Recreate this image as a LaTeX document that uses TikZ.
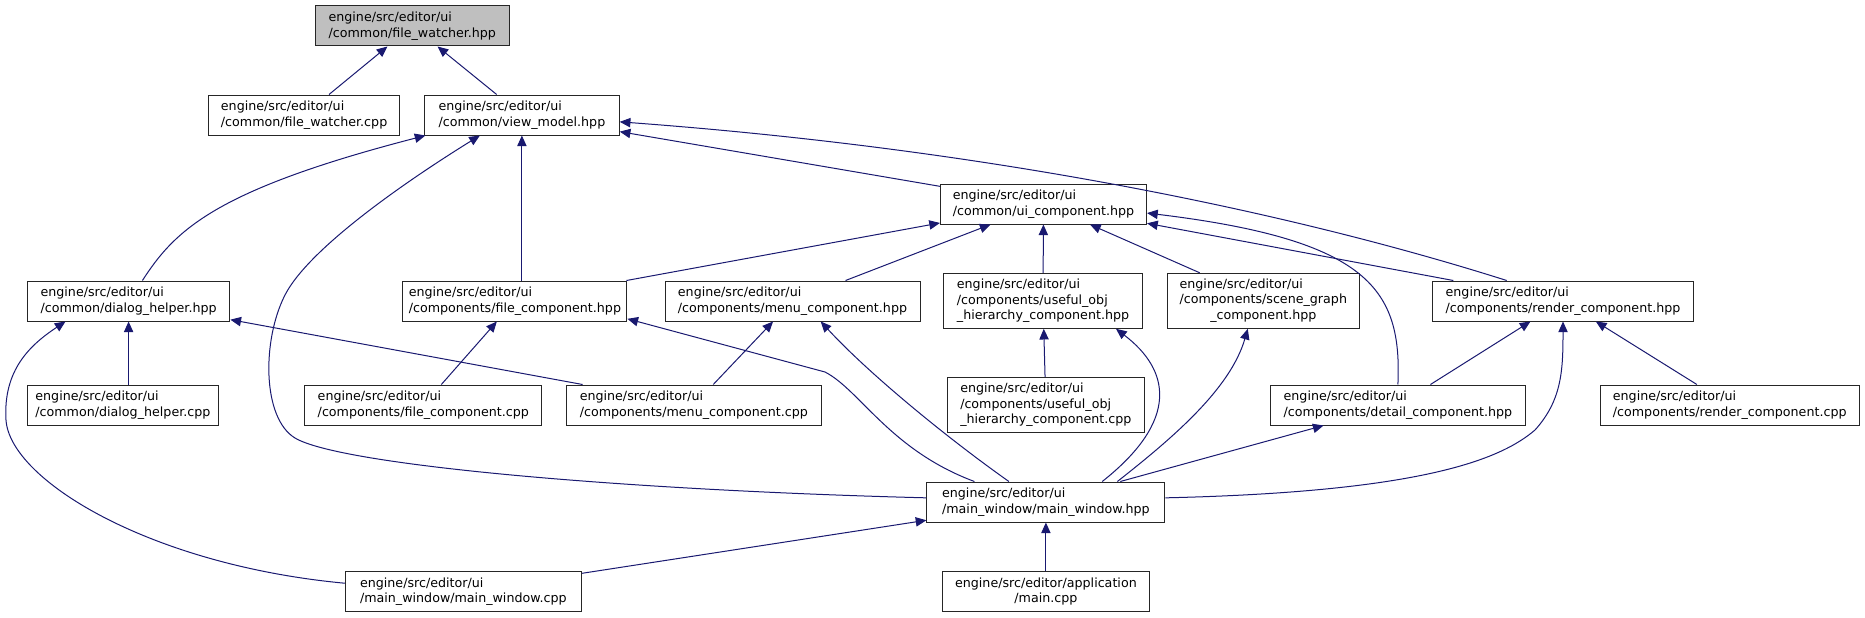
\documentclass[tikz,border=0pt]{standalone}
\usepackage{fontspec}
\setmainfont{DejaVu Sans}
\usetikzlibrary{arrows.meta}

\begin{document}
\begin{tikzpicture}[x=0.75pt,y=-0.75pt,font=\fontsize{9.5}{11.7}\selectfont,
	file/.style={draw=black!85,line width=0.75pt,fill=white,inner sep=0pt,align=left},
	sz/.style 2 args={minimum width=#1*0.75pt,minimum height=#2*0.75pt},
	inc/.style={draw=incEdge,line width=0.75pt,-{Triangle[length=8pt,width=7pt]}}]
\definecolor{incEdge}{HTML}{191970}
\definecolor{incFocus}{HTML}{BFBFBF}

\useasboundingbox (0,0) rectangle (1865,617);

\node[file,fill=incFocus,sz={193.5}{40}] (fwHpp) at (412.3,26) {engine/src/editor/ui\\/common/file\_watcher.hpp};
\node[file,sz={191}{40}] (fwCpp) at (304.1,115) {engine/src/editor/ui\\/common/file\_watcher.cpp};
\node[file,sz={194.7}{40}] (vmHpp) at (521.9,115) {engine/src/editor/ui\\/common/view\_model.hpp};
\node[file,sz={206.1}{40}] (uiHpp) at (1043.5,204) {engine/src/editor/ui\\/common/ui\_component.hpp};

\node[file,sz={202.5}{40}] (dlgHpp) at (128.6,301) {engine/src/editor/ui\\/common/dialog\_helper.hpp};
\node[file,sz={224}{40}] (fileHpp) at (514.9,301) {engine/src/editor/ui\\/components/file\_component.hpp};
\node[file,sz={255}{40}] (menuHpp) at (792.5,301) {engine/src/editor/ui\\/components/menu\_component.hpp};
\node[file,sz={198.7}{55}] (objHpp) at (1043,300.8) {engine/src/editor/ui\\/components/useful\_obj\\\_hierarchy\_component.hpp};
\node[file,sz={192.6}{55}] (sceneHpp) at (1263.3,300.8)
	{\begin{tabular}{@{}l@{}}engine/src/editor/ui\\/components/scene\_graph\\\multicolumn{1}{@{}c@{}}{\_component.hpp}\end{tabular}};
\node[file,sz={260.3}{40}] (renderHpp) at (1563,301) {engine/src/editor/ui\\/components/render\_component.hpp};

\node[file,sz={191}{40}] (dlgCpp) at (122.9,405) {engine/src/editor/ui\\/common/dialog\_helper.cpp};
\node[file,sz={236.7}{40}] (fileCpp) at (423.3,405) {engine/src/editor/ui\\/components/file\_component.cpp};
\node[file,sz={254.5}{40}] (menuCpp) at (693.8,405) {engine/src/editor/ui\\/components/menu\_component.cpp};
\node[file,sz={197.5}{55}] (objCpp) at (1045.8,405) {engine/src/editor/ui\\/components/useful\_obj\\\_hierarchy\_component.cpp};
\node[file,sz={254.3}{40}] (detailHpp) at (1397.9,405) {engine/src/editor/ui\\/components/detail\_component.hpp};
\node[file,sz={258.7}{40}] (renderCpp) at (1729.7,405) {engine/src/editor/ui\\/components/render\_component.cpp};

\node[file,sz={238}{40}] (mwHpp) at (1045.9,502) {engine/src/editor/ui\\/main\_window/main\_window.hpp};
\node[file,sz={236}{40}] (mwCpp) at (463.3,591.5) {engine/src/editor/ui\\/main\_window/main\_window.cpp};
\node[file,align=center,sz={207}{40}] (appCpp) at (1045.9,591.5) {engine/src/editor/application\\/main.cpp};

\draw[inc] (fwCpp) -- (fwHpp);
\draw[inc] (vmHpp) -- (fwHpp);
\draw[inc] (dlgHpp.56) .. controls (175,230) and (215,190) .. (vmHpp.192);
\draw[inc] (mwHpp.178) .. controls (620,490) and (340,465) .. (295,438)
	.. controls (262,418) and (262,340) .. (285,295)
	.. controls (308,250) and (400,185) .. (vmHpp.206);
\draw[inc] (fileHpp.north -| vmHpp.south) -- (vmHpp.south);
\draw[inc] (uiHpp) -- (vmHpp);
\draw[inc] (renderHpp.160) .. controls (1300,215) and (1000,150) .. (vmHpp.-4);

\draw[inc] (fileHpp) -- (uiHpp);
\draw[inc] (menuHpp) -- (uiHpp);
\draw[inc] (objHpp) -- (uiHpp);
\draw[inc] (sceneHpp) -- (uiHpp);
\draw[inc] (detailHpp.north) .. controls (1402,290) and (1370,240) .. (uiHpp.-5);
\draw[inc] (renderHpp) -- (uiHpp);

\draw[inc] (dlgCpp.north -| dlgHpp.south) -- (dlgHpp.south);
\draw[inc] (menuCpp) -- (dlgHpp);
\draw[inc] (mwCpp.176) .. controls (150,565) and (10,480) .. (6,420)
	.. controls (3,370) and (30,345) .. (dlgHpp.198);
\draw[inc] (fileCpp) -- (fileHpp);
\draw[inc] (mwHpp.164) .. controls (890,450) and (860,390) .. (825,372) -- (fileHpp.-9);
\draw[inc] (menuCpp) -- (menuHpp);
\draw[inc] (mwHpp.151) .. controls (950,440) and (870,375) .. (menuHpp.-36);
\draw[inc] (objCpp) -- (objHpp);
\draw[inc] (mwHpp.20) .. controls (1180,420) and (1170,370) .. (objHpp.-21);
\draw[inc] (mwHpp.16) .. controls (1170,440) and (1230,390) .. (sceneHpp.241);
\draw[inc] (mwHpp) -- (detailHpp);
\draw[inc] (detailHpp) -- (renderHpp);
\draw[inc] (renderCpp) -- (renderHpp);
\draw[inc] (mwHpp.2) .. controls (1420,492) and (1500,460) .. (1535,430)
	.. controls (1562,400) and (1563,370) .. (renderHpp.south);

\draw[inc] (mwCpp) -- (mwHpp);
\draw[inc] (appCpp) -- (mwHpp);
\end{tikzpicture}
\end{document}
